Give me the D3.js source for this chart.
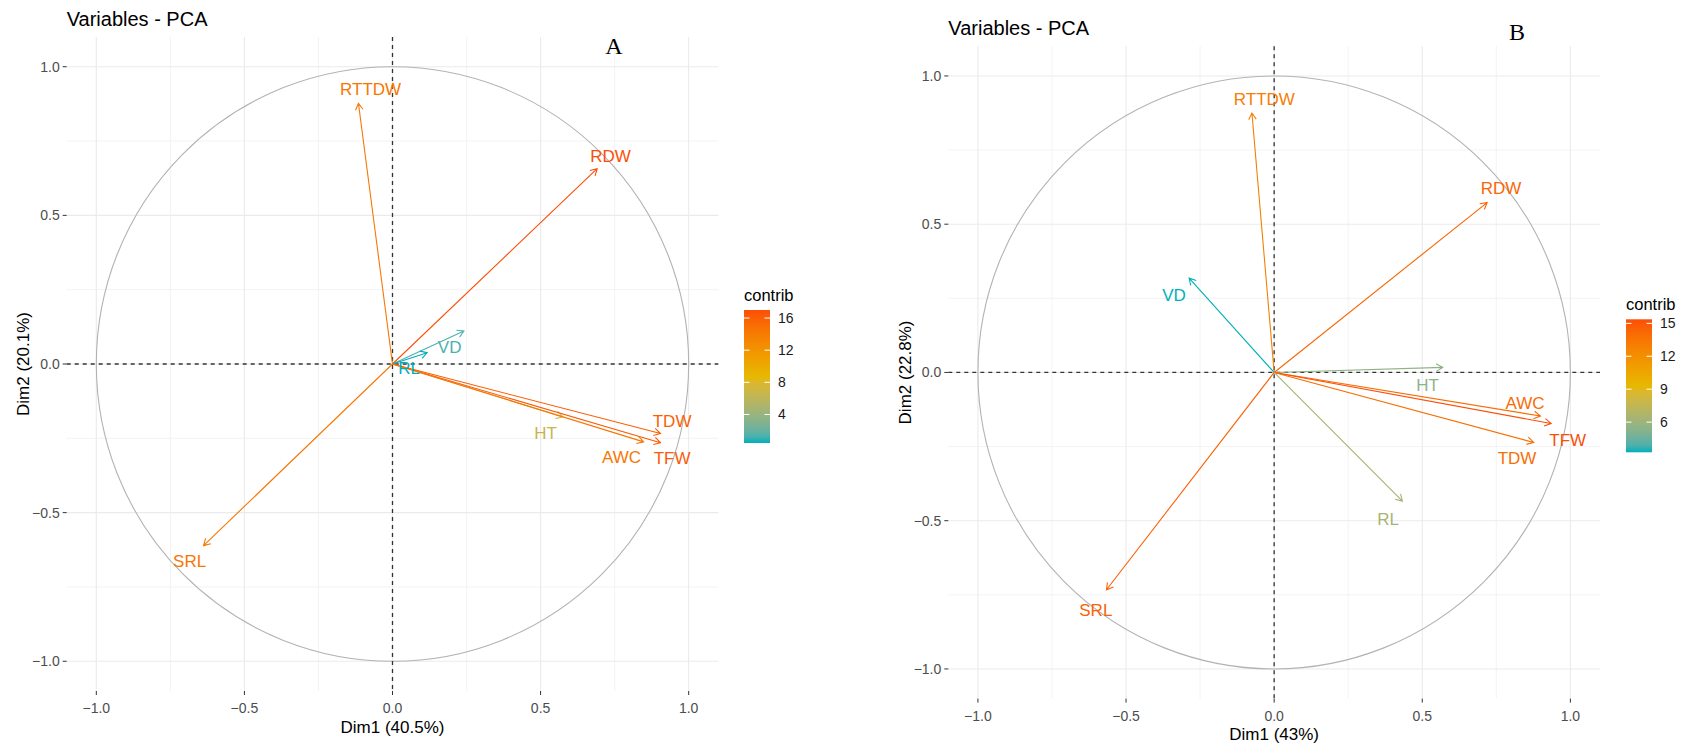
<!DOCTYPE html>
<html>
<head>
<meta charset="utf-8">
<script src="https://cdn.jsdelivr.net/npm/d3@7"></script>
<style>
  body { margin: 0; background: #fff; }
  svg text { font-family: "Liberation Sans", Arial, sans-serif; }
</style>
</head>
<body>
<svg id="chart" width="1686" height="746"></svg>
<script>
// Two PCA correlation circles (factoextra style), panels A and B

const gridMajor = [-1, -0.5, 0, 0.5, 1];
const gridMinor = [-0.75, -0.25, 0.25, 0.75];
const gradientCols = ["#00AFBB", "#E7B800", "#FC4E07"];

// Panel A
const varsA = ["RTTDW", "RDW", "VD", "RL", "HT", "TDW", "TFW", "AWC", "SRL"];
const dim1A = [-0.115, 0.691, 0.241, 0.117, 0.575, 0.905, 0.905, 0.848, -0.638];
const dim2A = [0.877, 0.657, 0.111, 0.038, -0.178, -0.234, -0.265, -0.262, -0.611];
const contribA = [14.3, 17.0, 1.3, 0.45, 6.6, 16.0, 16.3, 14.4, 14.3];
const labelXA = [-0.074, 0.736, 0.193, 0.056, 0.517, 0.944, 0.944, 0.773, -0.685];
const labelYA = [0.922, 0.699, 0.056, -0.015, -0.234, -0.195, -0.318, -0.315, -0.663];
const legendTicksA = [4, 8, 12, 16];

// Panel B
const varsB = ["RTTDW", "RDW", "VD", "HT", "AWC", "TFW", "TDW", "RL", "SRL"];
const dim1B = [-0.075, 0.719, -0.287, 0.569, 0.899, 0.935, 0.876, 0.433, -0.566];
const dim2B = [0.875, 0.573, 0.318, 0.017, -0.147, -0.172, -0.236, -0.434, -0.733];
const contribB = [13.0, 14.3, 3.25, 5.5, 14.0, 15.37, 13.9, 6.35, 14.5];
const labelXB = [-0.033, 0.766, -0.338, 0.518, 0.847, 0.991, 0.820, 0.385, -0.602];
const labelYB = [0.920, 0.622, 0.261, -0.043, -0.105, -0.229, -0.291, -0.497, -0.802];
const legendTicksB = [6, 9, 12, 15];

const svg = d3.select('#chart');

const drawPanel = (cfg) => {
    const g = svg.append('g');
    const x = d3.scaleLinear().domain([-1.1, 1.1]).range([cfg.left, cfg.right]);
    const y = d3.scaleLinear().domain([-1.1, 1.1]).range([cfg.bottom, cfg.top]);

    // grid
    g.selectAll('.vminor').data(gridMinor).enter().append('line')
        .attr('x1', d => x(d)).attr('x2', d => x(d))
        .attr('y1', cfg.top).attr('y2', cfg.bottom)
        .attr('stroke', '#f0f0f0').attr('stroke-width', 0.8);
    g.selectAll('.hminor').data(gridMinor).enter().append('line')
        .attr('y1', d => y(d)).attr('y2', d => y(d))
        .attr('x1', cfg.left).attr('x2', cfg.right)
        .attr('stroke', '#f0f0f0').attr('stroke-width', 0.8);
    g.selectAll('.vmajor').data(gridMajor).enter().append('line')
        .attr('x1', d => x(d)).attr('x2', d => x(d))
        .attr('y1', cfg.top).attr('y2', cfg.bottom)
        .attr('stroke', '#ebebeb').attr('stroke-width', 1.1);
    g.selectAll('.hmajor').data(gridMajor).enter().append('line')
        .attr('y1', d => y(d)).attr('y2', d => y(d))
        .attr('x1', cfg.left).attr('x2', cfg.right)
        .attr('stroke', '#ebebeb').attr('stroke-width', 1.1);

    // correlation circle
    g.append('ellipse')
        .attr('cx', x(0)).attr('cy', y(0))
        .attr('rx', x(1) - x(0)).attr('ry', y(0) - y(1))
        .attr('fill', 'none').attr('stroke', '#b3b3b3').attr('stroke-width', 1.1);

    // dashed axes at zero
    g.append('line')
        .attr('x1', cfg.left).attr('x2', cfg.right)
        .attr('y1', y(0)).attr('y2', y(0))
        .attr('stroke', '#333').attr('stroke-width', 1.3).attr('stroke-dasharray', '4,4');
    g.append('line')
        .attr('x1', x(0)).attr('x2', x(0))
        .attr('y1', cfg.top).attr('y2', cfg.bottom)
        .attr('stroke', '#333').attr('stroke-width', 1.3).attr('stroke-dasharray', '4,4');

    const color = d3.scaleLinear()
        .domain([d3.min(cfg.contrib), (d3.min(cfg.contrib) + d3.max(cfg.contrib)) / 2, d3.max(cfg.contrib)])
        .range(gradientCols)
        .interpolate(d3.interpolateLab);

    const rows = cfg.vars.map((name, i) => ({
        name, d1: cfg.dim1[i], d2: cfg.dim2[i], c: cfg.contrib[i],
        lx: cfg.labelX[i], ly: cfg.labelY[i]
    }));

    // arrows
    const head = 7.5, ang = Math.PI / 6;
    rows.forEach(d => {
        const x0 = x(0), y0 = y(0), tx = x(d.d1), ty = y(d.d2);
        const a = Math.atan2(ty - y0, tx - x0);
        const p1 = [tx - head * Math.cos(a - ang), ty - head * Math.sin(a - ang)];
        const p2 = [tx - head * Math.cos(a + ang), ty - head * Math.sin(a + ang)];
        g.append('path')
            .attr('d', `M${x0},${y0}L${tx},${ty}M${p1[0]},${p1[1]}L${tx},${ty}L${p2[0]},${p2[1]}`)
            .attr('fill', 'none')
            .attr('stroke', color(d.c))
            .attr('stroke-width', 1.1);
    });

    g.selectAll('.var-label').data(rows).enter().append('text')
        .attr('x', d => x(d.lx)).attr('y', d => y(d.ly))
        .attr('text-anchor', 'middle').attr('dominant-baseline', 'central')
        .style('font-size', '17px')
        .attr('fill', d => color(d.c))
        .text(d => d.name);

    // axes
    gridMajor.forEach(v => {
        g.append('line').attr('x1', cfg.left - 4).attr('x2', cfg.left)
            .attr('y1', y(v)).attr('y2', y(v)).attr('stroke', '#333').attr('stroke-width', 1);
        g.append('text').attr('x', cfg.left - 7).attr('y', y(v))
            .attr('text-anchor', 'end').attr('dominant-baseline', 'central')
            .style('font-size', '14px').attr('fill', '#4d4d4d')
            .text(d3.format('.1f')(v));
        g.append('line').attr('y1', cfg.bottom).attr('y2', cfg.bottom + 4)
            .attr('x1', x(v)).attr('x2', x(v)).attr('stroke', '#333').attr('stroke-width', 1);
        g.append('text').attr('x', x(v)).attr('y', cfg.bottom + 17)
            .attr('text-anchor', 'middle').attr('dominant-baseline', 'central')
            .style('font-size', '14px').attr('fill', '#4d4d4d')
            .text(d3.format('.1f')(v));
    });

    g.append('text')
        .attr('x', (cfg.left + cfg.right) / 2).attr('y', cfg.bottom + 36)
        .attr('text-anchor', 'middle').attr('dominant-baseline', 'central')
        .style('font-size', '17px').attr('fill', '#000')
        .text(cfg.xTitle);

    g.append('text')
        .attr('transform', `translate(${cfg.left - 43},${(cfg.top + cfg.bottom) / 2}) rotate(-90)`)
        .attr('text-anchor', 'middle').attr('dominant-baseline', 'central')
        .style('font-size', '17px').attr('fill', '#000')
        .text(cfg.yTitle);

    g.append('text')
        .attr('x', cfg.left).attr('y', cfg.top - 11)
        .style('font-size', '20px').attr('fill', '#000')
        .text('Variables - PCA');

    g.append('text')
        .attr('x', cfg.tagX).attr('y', cfg.tagY)
        .attr('text-anchor', 'middle').attr('dominant-baseline', 'central')
        .style('font-family', '"Liberation Serif", "Times New Roman", serif')
        .style('font-size', '24px').attr('fill', '#000')
        .text(cfg.tag);

    // colour legend
    const lo = d3.min(cfg.contrib), hi = d3.max(cfg.contrib);
    const barW = 26, barH = 133;
    const ly = d3.scaleLinear().domain([lo, hi]).range([cfg.legendTop + barH, cfg.legendTop]);
    const gradId = 'grad' + cfg.tag;
    const grad = svg.append('defs').append('linearGradient')
        .attr('id', gradId).attr('x1', 0).attr('x2', 0).attr('y1', 1).attr('y2', 0);
    d3.range(0, 21).forEach(i => {
        grad.append('stop').attr('offset', i / 20).attr('stop-color', color(lo + (hi - lo) * i / 20));
    });
    g.append('rect')
        .attr('x', cfg.legendLeft).attr('y', cfg.legendTop)
        .attr('width', barW).attr('height', barH)
        .attr('fill', `url(#${gradId})`);
    cfg.legendTicks.forEach(t => {
        g.append('line').attr('x1', cfg.legendLeft).attr('x2', cfg.legendLeft + 5.5)
            .attr('y1', ly(t)).attr('y2', ly(t)).attr('stroke', '#fff').attr('stroke-width', 1);
        g.append('line').attr('x1', cfg.legendLeft + barW - 5.5).attr('x2', cfg.legendLeft + barW)
            .attr('y1', ly(t)).attr('y2', ly(t)).attr('stroke', '#fff').attr('stroke-width', 1);
        g.append('text').attr('x', cfg.legendLeft + barW + 8).attr('y', ly(t))
            .attr('dominant-baseline', 'central')
            .style('font-size', '14px').attr('fill', '#1a1a1a')
            .text(t);
    });
    g.append('text')
        .attr('x', cfg.legendLeft).attr('y', cfg.legendTop - 15)
        .attr('dominant-baseline', 'central')
        .style('font-size', '16.5px').attr('fill', '#000')
        .text('contrib');
};

drawPanel({
    tag: 'A', tagX: 614, tagY: 46,
    left: 66.7, right: 718.3, top: 37, bottom: 691,
    vars: varsA, dim1: dim1A, dim2: dim2A, contrib: contribA,
    labelX: labelXA, labelY: labelYA, legendTicks: legendTicksA,
    legendLeft: 744, legendTop: 310,
    xTitle: 'Dim1 (40.5%)', yTitle: 'Dim2 (20.1%)'
});

drawPanel({
    tag: 'B', tagX: 1517, tagY: 32,
    left: 948.3, right: 1600, top: 46.3, bottom: 698.6,
    vars: varsB, dim1: dim1B, dim2: dim2B, contrib: contribB,
    labelX: labelXB, labelY: labelYB, legendTicks: legendTicksB,
    legendLeft: 1626, legendTop: 319.3,
    xTitle: 'Dim1 (43%)', yTitle: 'Dim2 (22.8%)'
});
</script>
</body>
</html>
